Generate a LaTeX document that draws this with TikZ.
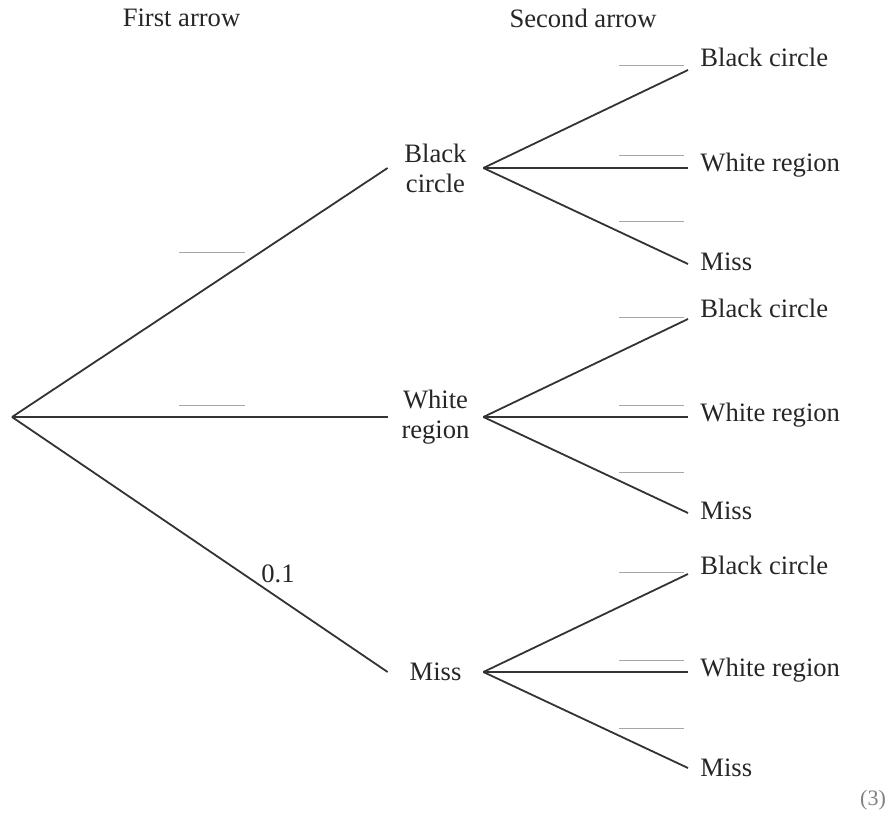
\documentclass[tikz,border=0pt]{standalone}
\usepackage{fontspec}
\setmainfont{Liberation Serif}
\begin{document}
\begin{tikzpicture}[x=0.5pt,y=-0.5pt,
  every node/.style={font=\rmfamily\fontsize{13.3pt}{15pt}\selectfont, text=black!85},
  branch/.style={draw=black!80, line width=0.9pt},
  blank/.style={draw=black!35, line width=0.4pt},
  mid/.style={minimum width=47.5pt, inner sep=0pt, align=center},
  leaf/.style={anchor=west, inner sep=0pt},
  hdr/.style={}]
\useasboundingbox (0,0) rectangle (895,814);
% headers
\node[hdr] (h1) at (181.5,18) {First arrow};
\node[hdr] (h2) at (583,18) {Second arrow};
% root
\coordinate (r) at (12,417);
% middle nodes
\node[mid] (bc) at (435.5,168) {Black\\circle};
\node[mid] (wr) at (435.5,417) {White\\region};
\node[mid] (ms) at (435.5,672) {Miss};
\draw[branch] (r) -- (bc.west);
\draw[branch] (r) -- (wr.west);
\draw[branch] (r) -- (ms.west);
% leaf end points
\foreach \g/\y in {bc/0, wr/249, ms/504}{
  \coordinate (\g-e1) at (688,70+\y);
  \coordinate (\g-e2) at (688,168+\y);
  \coordinate (\g-e3) at (688,264+\y);
}
% leaves
\node[leaf] (bc-l1) at (700,57) {Black circle};
\node[leaf] (bc-l2) at (700,165) {White region};
\node[leaf] (bc-l3) at (700,262) {Miss};
\node[leaf] (wr-l1) at (700,308) {Black circle};
\node[leaf] (wr-l2) at (700,415) {White region};
\node[leaf] (wr-l3) at (700,511) {Miss};
\node[leaf] (ms-l1) at (700,565) {Black circle};
\node[leaf] (ms-l2) at (700,670) {White region};
\node[leaf] (ms-l3) at (700,768) {Miss};
\foreach \g in {bc,wr,ms}{
  \draw[branch] (\g.east) -- (\g-e1);
  \draw[branch, line width=1.3pt] (\g.east) -- (\g-e2);
  \draw[branch] (\g.east) -- (\g-e3);
}
% blanks first arrow
\draw[blank] (179,252) -- (245,252);
\draw[blank] (179,405) -- (245,405);
\node (p) at (278,574) {0.1};
% blanks second arrow
\foreach \y in {65,155,221,317,405,472,572,660,728}{
  \draw[blank] (619,\y) -- (684,\y);
}
\node[font=\rmfamily\fontsize{11pt}{13pt}\selectfont, text=black!50] (m) at (873,800) {(3)};
\end{tikzpicture}
\end{document}
